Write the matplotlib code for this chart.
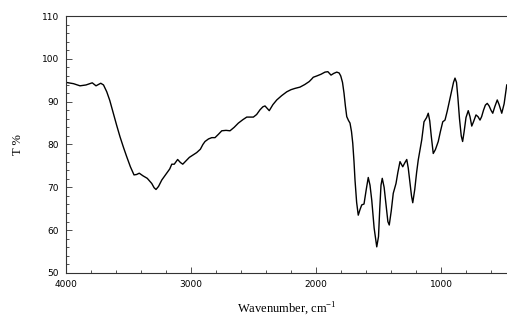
import numpy as np
import matplotlib.pyplot as plt
from matplotlib.ticker import MultipleLocator

# IR spectrum, wavenumber (cm-1) vs transmittance (%)
wavenumber = [4000, 3940, 3888, 3840, 3790, 3760, 3722, 3700, 3674, 3650,
              3622, 3595, 3568, 3540, 3515, 3485, 3456, 3435, 3414, 3385,
              3350, 3314, 3295, 3280, 3260, 3234, 3194, 3170, 3154, 3134,
              3107, 3085, 3066, 3040, 3013, 2982, 2955, 2925, 2905, 2888,
              2860, 2834, 2808, 2780, 2754, 2720, 2688, 2655, 2621, 2585,
              2554, 2525, 2501, 2475, 2448, 2425, 2408, 2390, 2374, 2345,
              2314, 2275, 2234, 2200, 2168, 2128, 2090, 2054, 2034, 2022,
              1994, 1960, 1928, 1905, 1880, 1858, 1834, 1815, 1802, 1788,
              1776, 1765, 1754, 1740, 1728, 1716, 1706, 1696, 1688, 1675,
              1662, 1648, 1634, 1616, 1598, 1582, 1568, 1554, 1535, 1514,
              1500, 1490, 1480, 1470, 1455, 1440, 1425, 1414, 1398, 1382,
              1360, 1345, 1328, 1306, 1290, 1274, 1262, 1248, 1236, 1226,
              1210, 1195, 1182, 1168, 1154, 1136, 1115, 1102, 1090, 1078,
              1062, 1045, 1022, 1005, 986, 968, 950, 934, 915, 900,
              888, 876, 865, 852, 838, 827, 815, 800, 782, 768,
              754, 740, 720, 704, 688, 675, 660, 645, 630, 615,
              600, 586, 570, 550, 535, 514, 495, 474]
transmittance = [94.5, 94.2, 93.7, 93.9, 94.4, 93.7, 94.3, 93.9, 92.3, 90.3,
                 87.3, 84.5, 81.8, 79.3, 77.2, 74.8, 72.9, 73.0, 73.3, 72.7,
                 72.1, 70.9, 69.9, 69.5, 70.2, 71.7, 73.3, 74.3, 75.4, 75.4,
                 76.5, 75.8, 75.4, 76.2, 77.0, 77.6, 78.1, 78.9, 80.0, 80.7,
                 81.3, 81.6, 81.6, 82.4, 83.2, 83.3, 83.2, 84.0, 85.0, 85.8,
                 86.4, 86.4, 86.4, 87.0, 88.1, 88.8, 89.0, 88.4, 87.9, 89.3,
                 90.4, 91.4, 92.3, 92.8, 93.1, 93.4, 94.0, 94.7, 95.3, 95.7,
                 96.0, 96.4, 96.9, 97.0, 96.2, 96.6, 96.9, 96.7, 96.0, 94.5,
                 92.0, 89.0, 86.5, 85.6, 85.0, 83.0, 80.3, 76.0, 71.7, 66.5,
                 63.5, 64.8, 65.9, 66.1, 69.5, 72.3, 70.5, 67.0, 60.5, 56.1,
                 58.5, 65.0, 70.5, 72.1, 70.0, 66.0, 62.0, 61.2, 64.5, 68.6,
                 70.9, 73.5, 76.0, 74.8, 75.7, 76.5, 74.5, 70.9, 68.0, 66.4,
                 69.5, 73.5, 76.4, 78.7, 81.1, 85.3, 86.3, 87.3, 85.5, 82.0,
                 77.9, 78.8, 80.7, 83.0, 85.3, 85.7, 87.8, 90.0, 92.5, 94.5,
                 95.5, 94.5, 91.0, 86.0, 82.0, 80.7, 83.0, 86.3, 87.9, 86.5,
                 84.3, 85.3, 86.9, 86.5, 85.7, 86.5, 88.0, 89.2, 89.6, 89.0,
                 88.0, 87.3, 88.8, 90.4, 89.3, 87.3, 89.5, 93.9]

fig = plt.figure(figsize=(5.07, 3.2), dpi=100)
ax = fig.add_axes([0.1302, 0.1469, 0.8698, 0.8031])

ax.plot(wavenumber, transmittance, color='black', lw=1.0)

ax.set_xlim(4000, 472)
ax.set_ylim(50, 110)
ax.xaxis.set_major_locator(MultipleLocator(1000))
ax.xaxis.set_minor_locator(MultipleLocator(200))
ax.yaxis.set_major_locator(MultipleLocator(10))
ax.yaxis.set_minor_locator(MultipleLocator(2))
ax.tick_params(which='both', direction='in', top=False, right=False,
               labelsize=6.5, width=0.6, color='#333333')
ax.tick_params(which='major', length=4, pad=5)
ax.tick_params(which='minor', length=2)

for side in ['left', 'bottom', 'top']:
    ax.spines[side].set_linewidth(0.8)
    ax.spines[side].set_color('#333333')
ax.spines['right'].set_visible(False)

ax.set_xlabel('Wavenumber, cm$^{\\mathregular{-1}}$', family='Liberation Serif',
              fontsize=9, labelpad=8)
ax.set_ylabel('T %', family='Liberation Serif', fontsize=9, labelpad=13)

fig.savefig('out.png', dpi=100)
